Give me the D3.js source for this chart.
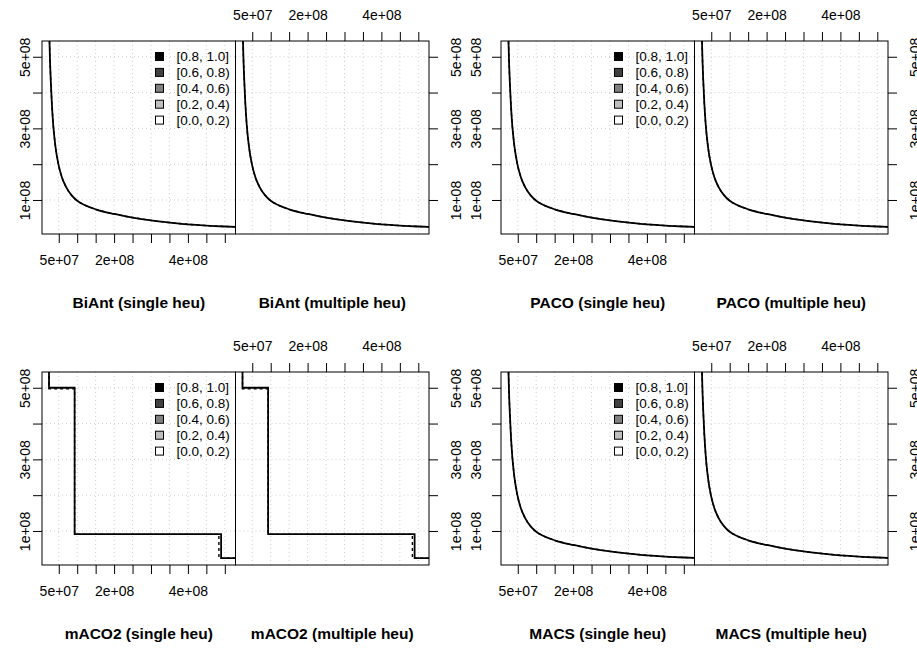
<!DOCTYPE html>
<html><head><meta charset="utf-8">
<script src="https://cdn.jsdelivr.net/npm/d3@7"></script>
<style>html,body{margin:0;padding:0;background:#fff;overflow:hidden}</style>
</head><body>
<script>
// ---------- data ----------
const algorithms = ["BiAnt", "PACO", "mACO2", "MACS"];
const panelSuffix = ["(single heu)", "(multiple heu)"];
const xTicks = [5e7, 1e8, 1.5e8, 2e8, 2.5e8, 3e8, 3.5e8, 4e8, 4.5e8, 5e8];
const xTickLabels = ["5e+07", "", "", "2e+08", "", "", "", "4e+08", "", ""];
const yTicks = [1e8, 2e8, 3e8, 4e8, 5e8];
const yTickLabels = ["1e+08", "", "3e+08", "", "5e+08"];
const legendLabels = ["[0.8, 1.0]", "[0.6, 0.8)", "[0.4, 0.6)", "[0.2, 0.4)", "[0.0, 0.2)"];
const legendColors = ["#000000", "#404040", "#808080", "#bebebe", "#ffffff"];

// attainment front shared look of BiAnt / PACO / MACS (best and worst coincide)
const frontX = [2.45e7, 2.6e7, 2.85e7, 3.1e7, 3.5e7, 4.1e7, 4.9e7, 5.8e7, 7.0e7, 8.5e7, 1.0e8,
                1.2e8, 1.5e8, 2.0e8, 2.5e8, 3.0e8, 3.5e8, 4.0e8, 4.5e8, 5.0e8, 5.4e8];
const frontY = [5.6e8, 5.0e8, 4.3e8, 3.75e8, 3.1e8, 2.5e8, 2.0e8, 1.65e8, 1.36e8, 1.13e8, 0.98e8,
                0.86e8, 0.74e8, 0.61e8, 0.51e8, 0.43e8, 0.37e8, 0.32e8, 0.285e8, 0.26e8, 0.245e8];
// mACO2 staircase fronts
const macoBestX = [2.36e7, 9.3e7, 4.9e8];
const macoBestY = [5.0e8, 0.915e8, 0.24e8];
const macoWorstX = [2.36e7, 9.3e7, 4.84e8];
const macoWorstY = [4.97e8, 0.905e8, 0.24e8];

const xDomain = [4.6e6, 5.29e8];
const yDomain = [5e6, 5.44e8];

// ---------- layout ----------
const FONT = "'Liberation Sans', Arial, Helvetica, sans-serif";
const W = 193.5, H = 193;
const origins = [[42, 41], [501, 41], [42, 372], [501, 372]];
const leftLabelOff = [16.5, 24.5, 16.5, 24.5];
const rightLabelOff = 27.5;

const svg = d3.select("body").append("svg").attr("width", 917).attr("height", 651)
  .style("font-family", FONT);

algorithms.forEach((alg, ai) => {
  const [ox, oy] = origins[ai];
  [0, 1].forEach(side => {
    const px0 = ox + side * W;
    const x = d3.scaleLinear().domain(xDomain).range([px0, px0 + W]);
    const y = d3.scaleLinear().domain(yDomain).range([oy + H, oy]);
    const g = svg.append("g");
    const clipId = `clip-${ai}-${side}`;
    svg.append("clipPath").attr("id", clipId).append("rect")
      .attr("x", px0).attr("y", oy).attr("width", W).attr("height", H);

    // grid
    g.selectAll(".gx").data(xTicks).join("line")
      .attr("x1", d => x(d)).attr("x2", d => x(d)).attr("y1", oy).attr("y2", oy + H)
      .attr("stroke", "#d0d0d0").attr("stroke-dasharray", "1,3");
    g.selectAll(".gy").data(yTicks).join("line")
      .attr("y1", d => y(d)).attr("y2", d => y(d)).attr("x1", px0).attr("x2", px0 + W)
      .attr("stroke", "#d0d0d0").attr("stroke-dasharray", "1,3");

    // curves
    const cg = g.append("g").attr("clip-path", `url(#${clipId})`);
    if (alg === "mACO2") {
      const mk = (xs, ys) => {
        const pts = [[xs[0], 6e8]];
        xs.forEach((v, i) => pts.push([v, ys[i]]));
        pts.push([6e8, ys[ys.length - 1]]);
        return pts;
      };
      const line = d3.line().x(d => x(d[0])).y(d => y(d[1])).curve(d3.curveStepAfter);
      cg.append("path").attr("d", line(mk(macoBestX, macoBestY)))
        .attr("fill", "none").attr("stroke", "#000").attr("stroke-width", 1.8);
      cg.append("path").attr("d", line(mk(macoWorstX, macoWorstY)))
        .attr("fill", "none").attr("stroke", "#000").attr("stroke-width", 1.4)
        .attr("stroke-dasharray", "3,3");
    } else {
      const pts = frontX.map((v, i) => [v, frontY[i]]);
      const line = d3.line().x(d => x(d[0])).y(d => y(d[1])).curve(d3.curveMonotoneX);
      cg.append("path").attr("d", line(pts))
        .attr("fill", "none").attr("stroke", "#000").attr("stroke-width", 1.8);
      cg.append("path").attr("d", line(pts))
        .attr("fill", "none").attr("stroke", "#000").attr("stroke-width", 1.4)
        .attr("stroke-dasharray", "3,3");
    }

    // box
    g.append("rect").attr("x", px0).attr("y", oy).attr("width", W).attr("height", H)
      .attr("fill", "none").attr("stroke", "#000").attr("stroke-width", 1);

    // axes
    const fmtX = (d, i) => xTickLabels[i];
    const fmtY = (d, i) => yTickLabels[i];
    if (side === 0) {
      const ax = svg.append("g").attr("transform", `translate(0,${oy + H})`)
        .call(d3.axisBottom(x).tickValues(xTicks).tickSize(9).tickFormat(fmtX));
      ax.select(".domain").remove();
      ax.selectAll("text").attr("y", 26).attr("dy", "0.35em")
        .style("font-size", "14px").style("font-family", FONT).attr("fill", "#000");
      const ay = svg.append("g").attr("transform", `translate(${px0},0)`)
        .call(d3.axisLeft(y).tickValues(yTicks).tickSize(9).tickFormat(fmtY));
      ay.select(".domain").remove();
      ay.selectAll("text").attr("x", null).attr("dy", "0.35em")
        .attr("transform", `translate(${-leftLabelOff[ai]},0) rotate(-90)`)
        .attr("text-anchor", "middle")
        .style("font-size", "14px").style("font-family", FONT).attr("fill", "#000");
    } else {
      const ax = svg.append("g").attr("transform", `translate(0,${oy})`)
        .call(d3.axisTop(x).tickValues(xTicks).tickSize(9).tickFormat(fmtX));
      ax.select(".domain").remove();
      ax.selectAll("text").attr("y", -26).attr("dy", "0.35em")
        .style("font-size", "14px").style("font-family", FONT).attr("fill", "#000");
      const ay = svg.append("g").attr("transform", `translate(${px0 + W},0)`)
        .call(d3.axisRight(y).tickValues(yTicks).tickSize(9).tickFormat(fmtY));
      ay.select(".domain").remove();
      ay.selectAll("text").attr("x", null).attr("dy", "0.35em")
        .attr("transform", `translate(${rightLabelOff},0) rotate(-90)`)
        .attr("text-anchor", "middle")
        .style("font-size", "14px").style("font-family", FONT).attr("fill", "#000");
    }

    // title
    svg.append("text").attr("x", px0 + W / 2).attr("y", oy + 262).attr("dy", "0.35em")
      .attr("text-anchor", "middle").style("font-size", "15.5px").style("font-weight", "bold")
      .text(`${alg} ${panelSuffix[side]}`);

    // legend
    if (side === 0) {
      const lg = svg.append("g");
      legendLabels.forEach((lab, i) => {
        const cy = oy + 15.5 + i * 15.9;
        lg.append("rect").attr("x", ox + 113.5).attr("y", cy - 4).attr("width", 8).attr("height", 8)
          .attr("fill", legendColors[i]).attr("stroke", "#000").attr("stroke-width", 1);
        lg.append("text").attr("x", ox + 134.5).attr("y", cy).attr("dy", "0.35em")
          .style("font-size", "13.5px").text(lab);
      });
    }
  });
});
</script>
</body></html>
